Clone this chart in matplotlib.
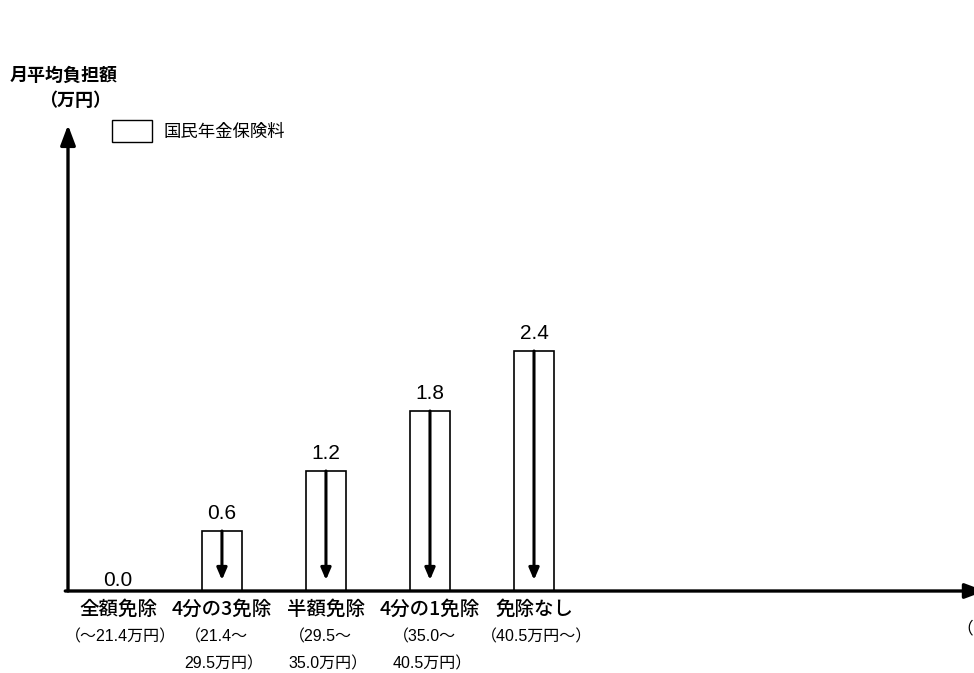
import matplotlib
matplotlib.use("Agg")
import matplotlib.pyplot as plt
from matplotlib.patches import Patch

plt.rcParams['font.family'] = ['Noto Sans CJK JP', 'DejaVu Sans']

categories = ["全額免除", "4分の3免除", "半額免除", "4分の1免除", "免除なし"]
income_ranges = ["（～21.4万円）", "（21.4～\n29.5万円）", "（29.5～\n35.0万円）",
                 "（35.0～\n40.5万円）", "（40.5万円～）"]
values = [0.0, 0.6, 1.2, 1.8, 2.4]
value_labels = ["0.0", "0.6", "1.2", "1.8", "2.4"]
legend_label = "国民年金保険料"
y_title = "月平均負担額"
y_unit = "（万円）"

W, H = 974, 673
fig = plt.figure(figsize=(W / 100, H / 100), dpi=100)
fig.patch.set_facecolor("white")

# axes: origin at pixel (68, 591), ~104 px per category, 100 px per 1万円
x0, y0, ytop = 68, 591, 125
ax = fig.add_axes([x0 / W, (H - y0) / H, (W - x0) / W, (y0 - ytop) / H])
ax.set_xlim(-0.48, 8.23)
ax.set_ylim(0, (y0 - ytop) / 100)
ax.axis("off")

xs = list(range(len(categories)))
num_font = ['Liberation Sans', 'DejaVu Sans']
mixed_font = ['Liberation Sans', 'Noto Sans CJK JP']

# bars with downward arrows
ax.bar(xs, values, width=0.385, facecolor="white", edgecolor="black",
       linewidth=1.2, zorder=2)
for x, v, lab in zip(xs, values, value_labels):
    if v > 0:
        ax.annotate("", xy=(x, 0.11), xytext=(x, v),
                    arrowprops=dict(arrowstyle="-|>,head_length=0.7,head_width=0.3",
                                    color="black", lw=2.2, shrinkA=0, shrinkB=0),
                    zorder=3)
    ax.annotate(lab, xy=(x, v), xytext=(0, 6 if v > 0 else 1),
                textcoords="offset points", ha="center", va="bottom",
                fontsize=15, family=num_font)

# axis arrows
ax.annotate("", xy=(0, 1.0), xytext=(0, 0), xycoords="axes fraction",
            arrowprops=dict(arrowstyle="-|>,head_length=1.2,head_width=0.45",
                            color="black", lw=2.4, shrinkA=0, shrinkB=0),
            annotation_clip=False, zorder=4)
ax.annotate("", xy=(1.012, 0), xytext=(-0.003, 0), xycoords="axes fraction",
            arrowprops=dict(arrowstyle="-|>,head_length=1.2,head_width=0.45",
                            color="black", lw=2.4, shrinkA=0, shrinkB=0),
            annotation_clip=False, zorder=4)

# category and income-range labels
trans = ax.get_xaxis_transform()
for x, c, r in zip(xs, categories, income_ranges):
    ax.text(x + 0.0, -0.039, c, transform=trans, ha="center", va="center",
            fontsize=14, fontweight="medium")
    ax.text(x + 0.02, -0.083, r, transform=trans, ha="center", va="top",
            fontsize=11.5, family=mixed_font, multialignment="left",
            linespacing=1.95)

# truncated x-axis unit at the right edge
fig.text(956 / W, 1 - 629 / H, "（", ha="left", va="center", fontsize=12)

# y-axis title
fig.text(64 / W, 1 - 75 / H, y_title, ha="center", va="center",
         fontsize=13, fontweight="bold")
fig.text(75 / W, 1 - 101 / H, y_unit, ha="center", va="center",
         fontsize=13, fontweight="bold")

# legend
fig.legend(handles=[Patch(facecolor="white", edgecolor="black", linewidth=1.0)],
           labels=[legend_label], loc="center left",
           bbox_to_anchor=(96 / W, 1 - 131 / H), frameon=False,
           fontsize=12.5, handlelength=2.3, handleheight=1.5, handletextpad=0.7)

fig.savefig("out.png", dpi=100, facecolor="white")
